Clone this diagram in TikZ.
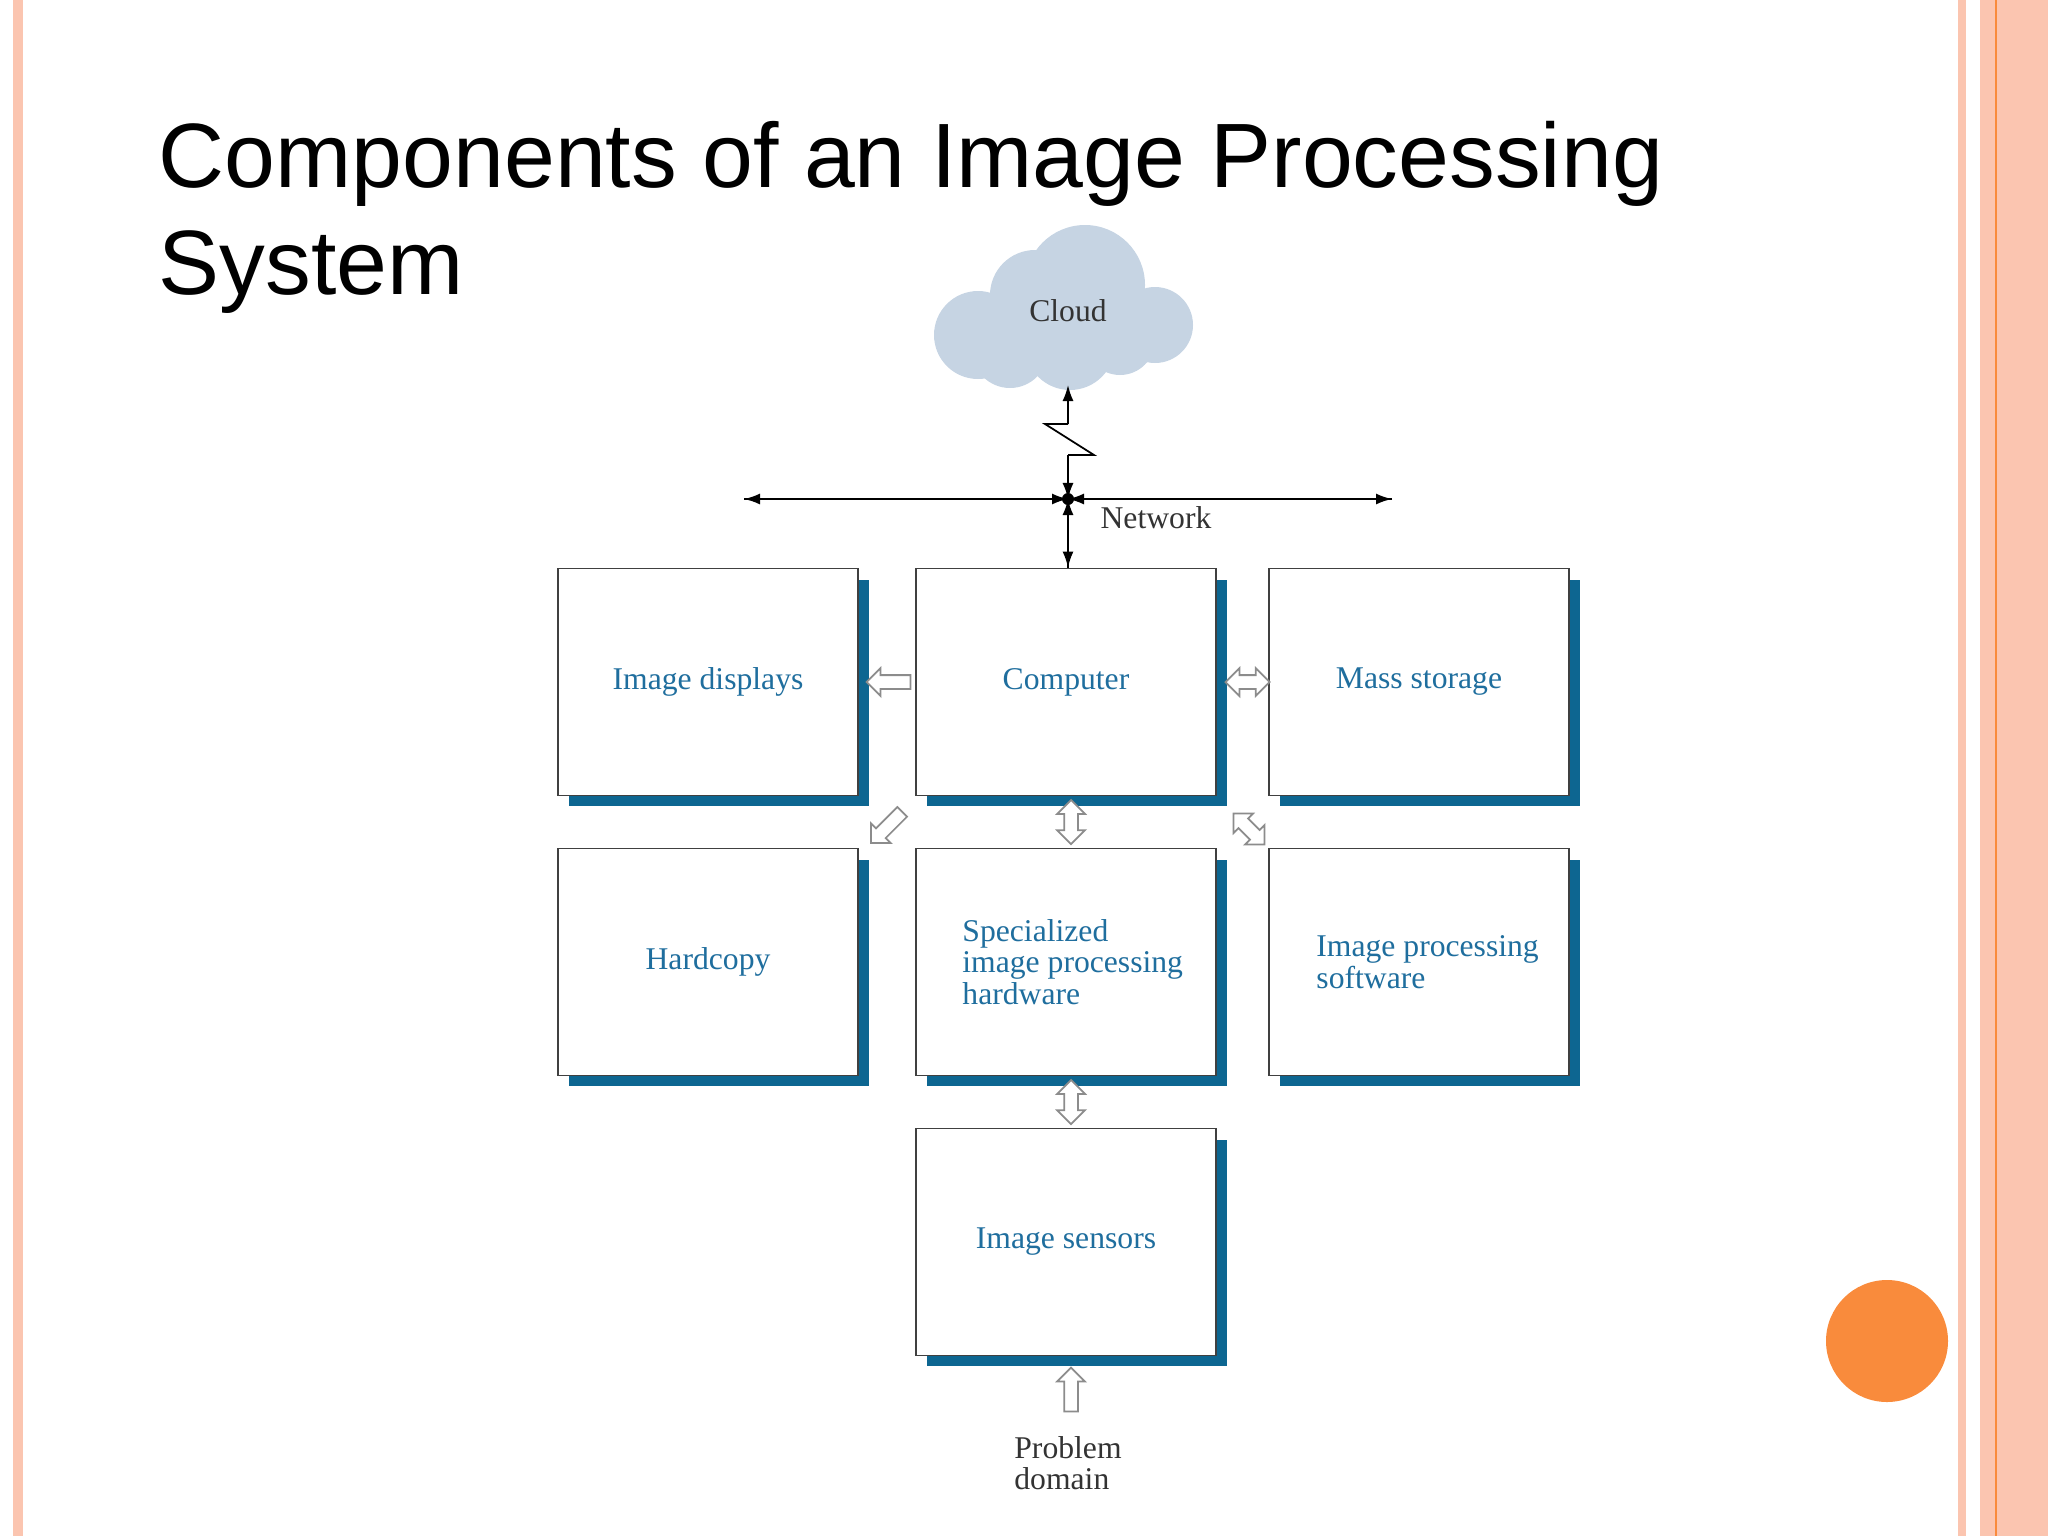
\documentclass[tikz,border=0pt]{standalone}
\usepackage{fontspec}
\setmainfont{Liberation Serif}
\newfontfamily\titlefont{Liberation Sans}
\usetikzlibrary{shapes.arrows,calc,arrows.meta}
\definecolor{boxtext}{HTML}{1F6E9E}
\definecolor{shadowblue}{HTML}{0D6691}
\definecolor{cloudblue}{HTML}{C6D4E3}
\definecolor{slidepink}{HTML}{FBC5B0}
\definecolor{slideorange}{HTML}{F98B3C}
\tikzset{
  comp/.style={draw=black!75, fill=white, line width=0.5pt, minimum width=3cm, minimum height=2.27cm, inner sep=0pt},
  shadow/.style={fill=shadowblue},
  lbl/.style={text=boxtext, font=\fontsize{9}{10}\selectfont, align=left},
  blk/.style={draw=black!45, fill=white, line width=0.5pt, inner xsep=0pt, inner ysep=0.06cm, minimum height=0.44cm, minimum width=0pt},
  sarr/.style={blk, single arrow, single arrow head extend=0.07cm},
  darr/.style={blk, double arrow, double arrow head extend=0.07cm},
  net/.style={line width=0.5pt, -{Latex[length=1.6mm,width=1.1mm]}},
}
\begin{document}
\begin{tikzpicture}[x=0.01cm,y=-0.01cm]
\useasboundingbox (0,0) rectangle (2048,1536);
% slide decoration
\fill[slidepink] (13,0) rectangle (23,1536);
\fill[slidepink] (1958,0) rectangle (1966,1536);
\fill[slidepink] (1980,0) rectangle (2048,1536);
\draw[slideorange, line width=0.6pt] (1996,0) -- (1996,1536);
\fill[slideorange] (1887,1341) circle (61);
% title
\node[anchor=base west, font=\titlefont\fontsize{26}{31}\selectfont, inner sep=0pt] (title) at (158,187) {Components of an Image Processing};
\node[anchor=base west, font=\titlefont\fontsize{26}{31}\selectfont, inner sep=0pt] (title2) at (158,294) {System};
% cloud
\begin{scope}[fill=cloudblue]
  \fill (978,335) circle (44);
  \fill (1035,295) circle (45);
  \fill (1085,285) circle (60);
  \fill (1155,325) circle (38);
  \fill (1070,345) circle (45);
  \fill (1010,350) circle (38);
  \fill (1120,340) circle (35);
\end{scope}
\node[font=\fontsize{9}{10}\selectfont, text=black!80] (cloud) at (1068,311) {Cloud};
% boxes with shadows
\foreach \n/\x/\y in {disp/708/682, comp/1066/682, mass/1419/682, hard/708/962, spec/1066/962, soft/1419/962, sens/1066/1242}{
  \fill[shadow] (\x-150+11,\y-113+11) rectangle (\x+150+11,\y+113+11);
  \node[comp] (\n) at (\x,\y) {};
}
\node[lbl] at (disp) {Image displays};
\node[lbl] at (comp) {Computer};
\node[lbl] at (mass) {Mass storage};
\node[lbl] at (hard) {Hardcopy};
\node[lbl, anchor=west] at (950,962) {Specialized\\[-1pt]image processing\\[-1pt]hardware};
\node[lbl, anchor=west] at (1304,962) {Image processing\\[-1pt]software};
\node[lbl] at (sens) {Image sensors};
% network
\coordinate (dot) at (1068,499);
\coordinate (nl) at (744,499);
\coordinate (nr) at (1392,499);
\coordinate (zz1) at (1068,424);
\coordinate (zz2) at (1045,424);
\coordinate (zz3) at (1094,455);
\coordinate (zz4) at (1068,455);
\draw[net] (zz1) -- (cloud.center |- 0,385);
\draw[line width=0.5pt] (zz1) -- (zz2) -- (zz3) -- (zz4);
\draw[net] (zz4) -- (dot);
\draw[net] (dot) -- (nl);
\draw[net] (nl) -- (dot);
\draw[net] (dot) -- (nr);
\draw[net] (nr) -- (dot);
\draw[net] (dot) -- (comp.north -| dot);
\draw[net] (comp.north -| dot) -- (dot);
\fill (dot) circle (6);
\node[font=\fontsize{9}{10}\selectfont, text=black!80] (netlbl) at (1156,518) {Network};
% block arrows
\node[sarr, rotate=180] (a1) at ($(disp.east)!0.5!(comp.west)+(5,0)$) {};
\node[darr] (a2) at ($(comp.east)!0.5!(mass.west)+(5,0)$) {};
\node[darr, rotate=90] (a3) at ($(comp.south)!0.5!(spec.north)+(5,0)$) {};
\node[sarr, rotate=-135] (a4) at (889,825) {};
\node[darr, rotate=-45] (a5) at (1249,829) {};
\node[darr, rotate=90] (a6) at ($(spec.south)!0.5!(sens.north)+(5,0)$) {};
\node[font=\fontsize{9}{10}\selectfont, text=black!80, align=left] (prob) at (1068,1463) {Problem\\[-1pt]domain};
\node[sarr, rotate=90] (a7) at (1071,1393) {};
\end{tikzpicture}
\end{document}
